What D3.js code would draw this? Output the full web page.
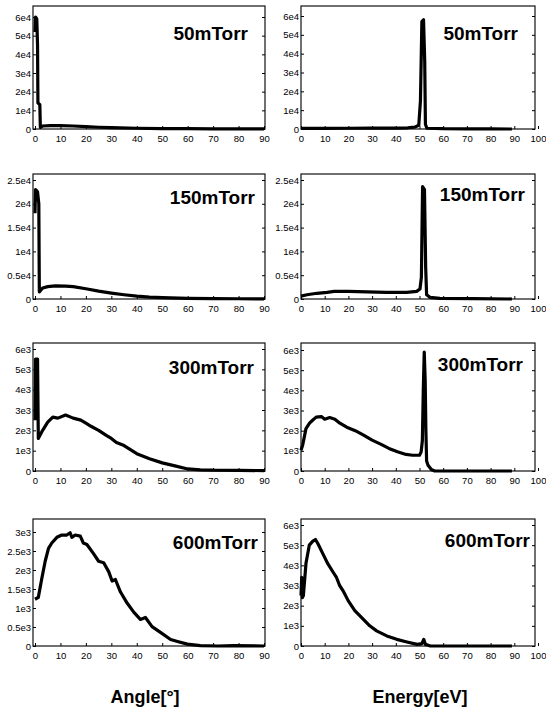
<!DOCTYPE html>
<html>
<head>
<meta charset="utf-8">
<script src="https://cdn.jsdelivr.net/npm/d3@7"></script>
<style>
body { margin: 0; background: #fff; }
.tick text { font-family: "Liberation Sans Narrow", "Liberation Sans", Arial, sans-serif; font-size: 9.5px; fill: #000; }
.lbl { font-family: "Liberation Sans", Arial, sans-serif; font-weight: bold; fill: #000; }
</style>
</head>
<body>
<script>
// angle distributions [deg, counts]
var angle50 = [[0,52000],[0.2,60000],[0.7,59000],[1.0,45000],[1.15,14000],[1.9,13000],[2.1,900],[3,1600],[6,1800],[10,1800],[15,1600],[20,1300],[25,950],[30,700],[40,400],[50,250],[60,150],[70,100],[80,60],[90,40]];
var angle150 = [[0,18000],[0.2,23000],[1.0,22500],[1.5,20000],[1.7,1500],[3,2300],[5,2600],[8,2750],[12,2700],[15,2600],[20,2150],[25,1650],[30,1250],[35,900],[40,600],[45,400],[50,280],[60,150],[70,80],[80,50],[90,40]];
var angle300 = [[0,2500],[0.2,5500],[1.0,5500],[1.3,1600],[3,2000],[5,2400],[7,2650],[9,2600],[12,2750],[15,2600],[18,2500],[20,2350],[22,2200],[25,2000],[28,1750],[30,1600],[32,1400],[35,1250],[40,850],[45,600],[50,400],[55,250],[60,100],[65,60],[70,40],[80,30],[90,20]];
var angle600 = [[0,1230],[1.3,1280],[2.6,1750],[4,2230],[5.3,2570],[6.6,2710],[8.6,2860],[10.5,2920],[12.5,2920],[13.8,2980],[14.5,2860],[15.8,2920],[17.8,2890],[19,2710],[20.4,2670],[23,2430],[25,2230],[27,2190],[29,1950],[30.3,1710],[31.6,1750],[33.6,1420],[36.2,1130],[38.8,890],[41.4,700],[43.4,750],[46,510],[49.3,360],[53.3,170],[56,120],[59.9,50],[65,10],[71.7,0],[78,10],[90,0]];

// energy distributions [eV, counts]
var energy50 = [[0,300],[10,350],[20,400],[30,450],[40,500],[45,650],[48,1000],[49.7,2000],[50.4,15000],[51.0,57000],[51.7,58000],[52.2,36000],[52.5,2500],[53.1,400],[60,150],[70,80],[80,40],[89,0]];
var energy150 = [[0,600],[2.5,900],[6.7,1200],[11,1400],[14,1600],[20,1600],[28,1500],[36,1400],[44.6,1400],[48.8,1600],[50.2,2100],[50.8,4600],[51.3,23600],[52.1,23000],[52.6,6700],[53,900],[54.4,350],[58.6,150],[72.6,70],[89,0]];
var energy300 = [[0,1030],[0.7,1280],[2.1,2100],[3.6,2370],[5,2530],[6.4,2670],[8.6,2700],[10,2570],[12.1,2650],[14.3,2570],[16.4,2370],[19.3,2170],[22.9,2000],[26.4,1780],[30,1530],[33.6,1330],[37.1,1120],[40.7,950],[44.3,820],[47.1,780],[50,780],[50.7,950],[51.2,1500],[51.6,4000],[52,5900],[52.4,4500],[52.7,2000],[53,500],[53.6,280],[55,70],[56.4,0],[89,0]];
var energy600 = [[0,2500],[0.3,3400],[0.6,2400],[1,2500],[2.1,4100],[3.5,5000],[5,5200],[6.1,5280],[7.1,5080],[9.2,4580],[11.3,4080],[13.5,3670],[14.9,3420],[16.3,3000],[17.7,2750],[19.9,2250],[22.7,1750],[25.5,1420],[29,1000],[31.9,750],[36.2,500],[40.4,330],[44.7,200],[49,80],[51,120],[51.8,330],[52.5,80],[54.6,0],[89,0]];

// tick values and labels
var angleTicks = [0,10,20,30,40,50,60,70,80,90];
var energyTicks = [0,10,20,30,40,50,60,70,80,90,100];
var ticks6e4 = [0,10000,20000,30000,40000,50000,60000];
var labels6e4 = ["0","1e4","2e4","3e4","4e4","5e4","6e4"];
var ticks25e4 = [0,5000,10000,15000,20000,25000];
var labels25e4 = ["0","0.5e4","1e4","1.5e4","2e4","2.5e4"];
var ticks6e3 = [0,1000,2000,3000,4000,5000,6000];
var labels6e3 = ["0","1e3","2e3","3e3","4e3","5e3","6e3"];
var ticks3e3 = [0,500,1000,1500,2000,2500,3000];
var labels3e3 = ["0","0.5e3","1e3","1.5e3","2e3","2.5e3","3e3"];
var pressures = ["50mTorr","150mTorr","300mTorr","600mTorr"];
var xTitles = ["Angle[°]","Energy[eV]"];

var w = 546, h = 709;

var svg = d3.select("body").append("svg")
  .attr("width", w)
  .attr("height", h);

// column layout: frame edges and x range
var cols = [
  {f0: 33, f1: 265, r0: 35, r1: 264, xMax: 90, ticks: angleTicks, tx: 145},
  {f0: 301, f1: 535, r0: 301, r1: 538, xMax: 100, ticks: energyTicks, tx: 420}
];

// panels
var panels = [
  {col: 0, row: 0, data: angle50, yt: ticks6e4, yl: labels6e4, top: 6, bottom: 129, yTop: 17, lx: 248, ly: 40},
  {col: 1, row: 0, data: energy50, yt: ticks6e4, yl: labels6e4, top: 6, bottom: 129, yTop: 16, lx: 518, ly: 40},
  {col: 0, row: 1, data: angle150, yt: ticks25e4, yl: labels25e4, top: 174, bottom: 299, yTop: 180, lx: 255, ly: 204},
  {col: 1, row: 1, data: energy150, yt: ticks25e4, yl: labels25e4, top: 174, bottom: 299, yTop: 180, lx: 525, ly: 201},
  {col: 0, row: 2, data: angle300, yt: ticks6e3, yl: labels6e3, top: 343, bottom: 471, yTop: 349, lx: 254, ly: 374},
  {col: 1, row: 2, data: energy300, yt: ticks6e3, yl: labels6e3, top: 343, bottom: 471, yTop: 350, lx: 523, ly: 371},
  {col: 0, row: 3, data: angle600, yt: ticks3e3, yl: labels3e3, top: 519, bottom: 646, yTop: 532, lx: 258, ly: 549},
  {col: 1, row: 3, data: energy600, yt: ticks6e3, yl: labels6e3, top: 519, bottom: 646, yTop: 525, lx: 530, ly: 547}
];

panels.forEach(function(p) {
  var c = cols[p.col];
  var x = d3.scaleLinear().domain([0, c.xMax]).range([c.r0, c.r1]);
  var yMax = p.yt[p.yt.length - 1];
  var y = d3.scaleLinear().domain([0, yMax]).range([p.bottom, p.yTop]);
  var g = svg.append("g");

  //frame
  g.append("rect")
    .attr("x", c.f0)
    .attr("y", p.top)
    .attr("width", c.f1 - c.f0)
    .attr("height", p.bottom - p.top)
    .attr("fill", "none")
    .attr("stroke", "#111")
    .attr("stroke-width", 1.2);

  //x axis
  g.append("g")
    .attr("transform", "translate(0," + p.bottom + ")")
    .call(d3.axisBottom(x).tickValues(c.ticks).tickSize(-3).tickPadding(6))
    .call(function(a) { a.select(".domain").remove(); });

  //y axis
  g.append("g")
    .attr("transform", "translate(" + c.f0 + ",0)")
    .call(d3.axisLeft(y).tickValues(p.yt).tickSize(-3).tickPadding(2)
      .tickFormat(function(d, i) { return p.yl[i]; }))
    .call(function(a) { a.select(".domain").remove(); });

  //mirror ticks on right
  g.append("g")
    .attr("transform", "translate(" + c.f1 + ",0)")
    .call(d3.axisRight(y).tickValues(p.yt).tickSize(-3).tickFormat(""))
    .call(function(a) { a.select(".domain").remove(); });

  //curve
  var line = d3.line()
    .x(function(d) { return x(d[0]); })
    .y(function(d) { return y(d[1]); });

  g.append("path")
    .datum(p.data)
    .attr("d", line)
    .attr("fill", "none")
    .attr("stroke", "#000")
    .attr("stroke-width", 3.2)
    .attr("stroke-linejoin", "round");

  //pressure label
  g.append("text")
    .attr("class", "lbl")
    .attr("x", p.lx)
    .attr("y", p.ly)
    .attr("text-anchor", "end")
    .style("font-size", "19px")
    .text(pressures[p.row]);
});

//axis titles
cols.forEach(function(c, i) {
  svg.append("text")
    .attr("class", "lbl")
    .attr("x", c.tx)
    .attr("y", 703)
    .attr("text-anchor", "middle")
    .style("font-size", "18px")
    .text(xTitles[i]);
});
</script>
</body>
</html>
